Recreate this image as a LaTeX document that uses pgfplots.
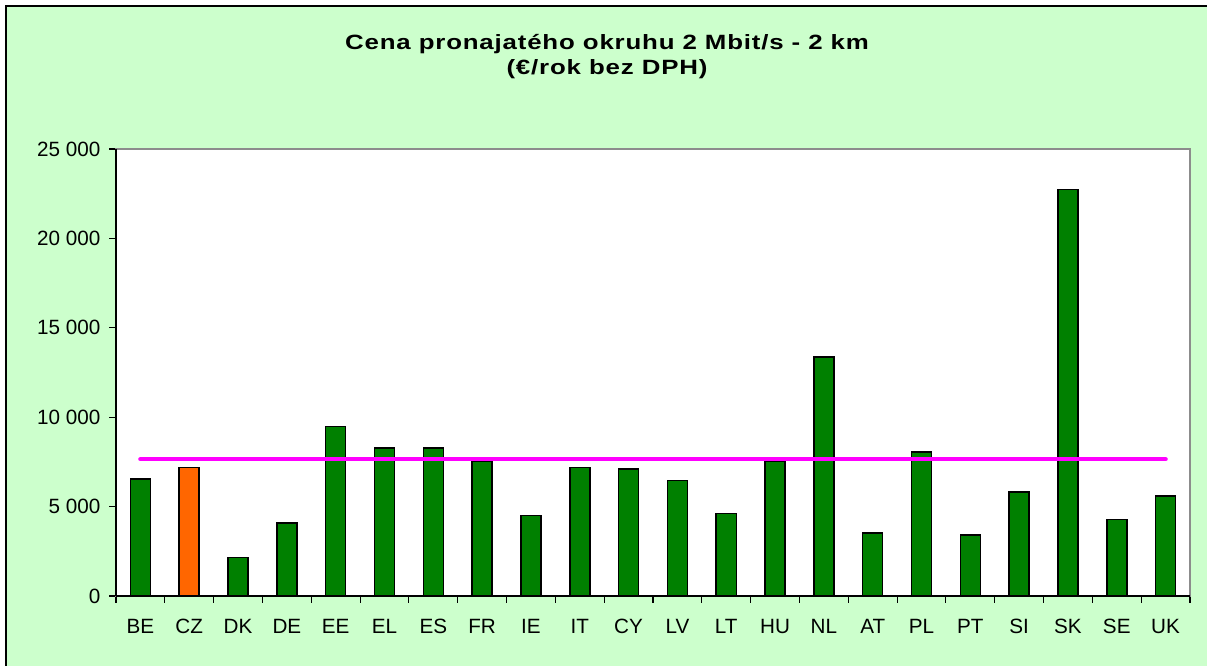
\documentclass[border=0pt]{standalone}
\usepackage{fontspec}
\setmainfont{Liberation Sans}
\newfontfamily\titlefont[FakeStretch=1.25, LetterSpace=4]{Liberation Sans}
\usepackage{pgfplots}
\pgfplotsset{compat=1.18}
\definecolor{bggreen}{HTML}{CCFFCC}
\definecolor{bargreen}{HTML}{008000}
\definecolor{barorange}{HTML}{FF6600}
\definecolor{avgmag}{HTML}{FF00FF}
\begin{document}
\begin{tikzpicture}
\useasboundingbox (0,0) rectangle (905.25pt,499.5pt);
\fill[bggreen] (4.5pt,0) rectangle (905.25pt,495pt);
\draw[black, line width=1.5pt] (4.5pt,0) -- (4.5pt,495pt) -- (905.25pt,495pt);
\node[anchor=base, font=\titlefont\bfseries\fontsize{15.5}{18}\selectfont] at (455.25pt,462.5pt) {Cena pronajatého okruhu 2 Mbit/s - 2 km};
\node[anchor=base, font=\titlefont\bfseries\fontsize{15.5}{18}\selectfont] at (455.25pt,443.25pt) {(€/rok bez DPH)};
\begin{axis}[
  at={(87pt,52.5pt)}, anchor=south west,
  width=805.5pt, height=335.25pt, scale only axis,
  xmin=-0.5, xmax=21.5, ymin=0, ymax=25000,
  scaled y ticks=false,
  axis background/.style={fill=white},
  axis line style={draw=gray!90, line width=1.5pt},
  xtick={0,...,21},
  xticklabels={BE,CZ,DK,DE,EE,EL,ES,FR,IE,IT,CY,LV,LT,HU,NL,AT,PL,PT,SI,SK,SE,UK},
  minor xtick={-0.5,0.5,...,21.5},
  major x tick style={draw=none},
  minor x tick style={black, line width=0.8pt},
  minor tick length=5pt,
  ytick={0,5000,10000,15000,20000,25000},
  yticklabels={0,5 000,10 000,15 000,20 000,25 000},
  major y tick style={black, line width=0.8pt},
  major tick length=5pt,
  tick align=outside,
  tick pos=left,
  xticklabel style={anchor=base, yshift=-23.25pt, font=\fontsize{15.5}{18}\selectfont},
  yticklabel style={anchor=east, inner sep=0pt, xshift=-6.5pt, font=\fontsize{15.5}{18}\selectfont},
  clip=false,
]
\addplot[ybar, bar width=15pt, bar shift=0pt, fill=bargreen, draw=black, line width=1.1pt]
  coordinates {(0,6550) (2,2140) (3,4070) (4,9470) (5,8280) (6,8280) (7,7550) (8,4490) (9,7200) (10,7090) (11,6450) (12,4610) (13,7550) (14,13370) (15,3520) (16,8060) (17,3410) (18,5820) (19,22740) (20,4290) (21,5580)};
\addplot[ybar, bar width=15pt, bar shift=0pt, fill=barorange, draw=black, line width=1.1pt]
  coordinates {(1,7200)};
\addplot[avgmag, line width=3.3pt, line cap=round, mark=none]
  coordinates {(0,7650) (1,7650) (2,7650) (3,7650) (4,7650) (5,7650) (6,7650) (7,7650) (8,7650) (9,7650) (10,7650) (11,7650) (12,7650) (13,7650) (14,7650) (15,7650) (16,7650) (17,7650) (18,7650) (19,7650) (20,7650) (21,7650)};
\draw[black, line width=0.8pt] (rel axis cs:0,0) -- (rel axis cs:0,1);
\draw[black, line width=0.8pt] (rel axis cs:0,0) -- (rel axis cs:1,0);
\end{axis}
\end{tikzpicture}
\end{document}
